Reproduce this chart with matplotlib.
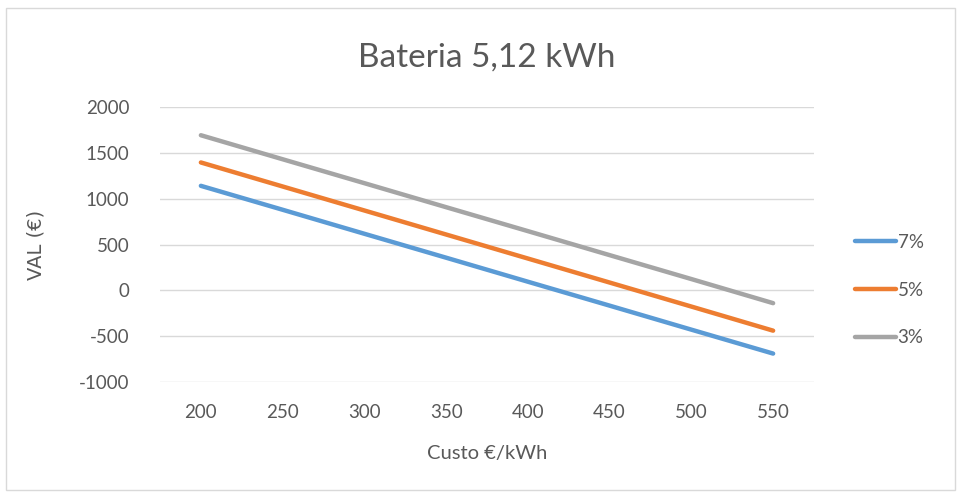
import matplotlib
matplotlib.use("Agg")
import matplotlib.pyplot as plt
from matplotlib.patches import Rectangle

# Battery cost scenarios (€/kWh) and net present value for each discount rate
custo = [200, 250, 300, 350, 400, 450, 500, 550]
val_7 = [1140, 879, 617, 356, 94, -167, -429, -690]
val_5 = [1395, 1133, 871, 609, 347, 85, -177, -440]
val_3 = [1692, 1430, 1169, 907, 646, 384, 123, -140]
series = [("7%", val_7, "#5B9BD5"), ("5%", val_5, "#ED7D31"), ("3%", val_3, "#A5A5A5")]
y_ticks = [-1000, -500, 0, 500, 1000, 1500, 2000]

plt.rcParams["font.family"] = ["Lato", "DejaVu Sans"]
text_col = "#595959"

W, H = 958, 495
fig = plt.figure(figsize=(W / 100, H / 100), dpi=100)
fig.patch.set_facecolor("white")
fig.patches.append(Rectangle((6 / W, 1 - 490 / H), 949 / W, 482 / H,
                             transform=fig.transFigure, fill=False,
                             edgecolor="#D9D9D9", linewidth=1))

ax = fig.add_axes([160 / W, 1 - 382 / H, 654 / W, 275 / H])
x = list(range(len(custo)))
for name, vals, col in series:
    ax.plot(x, vals, color=col, linewidth=3.2, solid_capstyle="round", label=name)

ax.set_xlim(-0.5, len(custo) - 0.5)
ax.set_ylim(-1000, 2000)
ax.set_yticks(y_ticks)
ax.set_yticklabels([str(v) for v in y_ticks])
ax.set_xticks(x)
ax.set_xticklabels([str(c) for c in custo])
ax.grid(axis="y", color="#D9D9D9", linewidth=1)
ax.set_axisbelow(True)
for s in ax.spines.values():
    s.set_visible(False)
ax.tick_params(length=0, colors=text_col, labelsize=13.5)
ax.tick_params(axis="y", pad=22)
ax.tick_params(axis="x", pad=16)

ax.set_title("Bateria 5,12 kWh", fontsize=24, color=text_col, pad=29)
ax.set_xlabel("Custo €/kWh", fontsize=14.5, color=text_col, labelpad=17)
ax.set_ylabel("VAL (€)", fontsize=14, color=text_col, labelpad=24,
              family=["DejaVu Sans"])

leg = ax.legend(loc="center left", bbox_to_anchor=(1.062, 0.3345), frameon=False,
                fontsize=13.5, handlelength=2.2, handletextpad=0.1,
                labelspacing=1.65, borderaxespad=0, borderpad=0)
for t in leg.get_texts():
    t.set_color(text_col)

fig.savefig("out.png", dpi=100)
